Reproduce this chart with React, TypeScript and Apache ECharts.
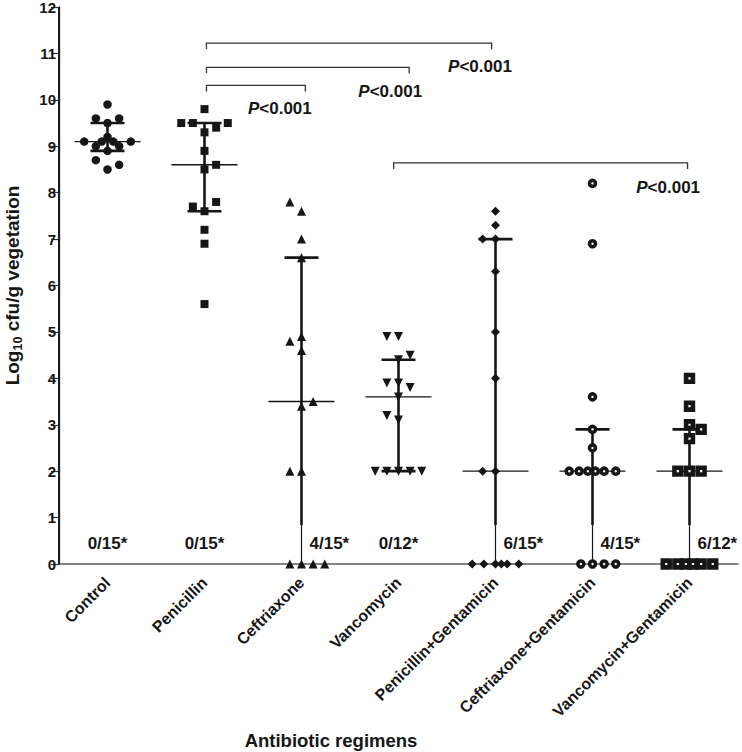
import React, { useEffect, useRef } from "react";
import * as echarts from "echarts";

const categories = [
  "Control",
  "Penicillin",
  "Ceftriaxone",
  "Vancomycin",
  "Penicillin+Gentamicin",
  "Ceftriaxone+Gentamicin",
  "Vancomycin+Gentamicin",
];

// log10 cfu/g vegetation, per animal
const controlValues = [9.9, 9.6, 9.6, 9.5, 9.2, 9.1, 9.1, 9.1, 9.1, 9.0, 9.0, 8.9, 8.7, 8.6, 8.5];
const penicillinValues = [9.8, 9.5, 9.5, 9.5, 9.4, 9.3, 8.9, 8.6, 8.5, 7.8, 7.7, 7.6, 7.2, 6.9, 5.6];
const ceftriaxoneValues = [7.8, 7.6, 7.0, 6.6, 4.9, 4.8, 4.6, 3.5, 3.4, 2.0, 2.0, 0, 0, 0, 0];
const vancomycinValues = [4.9, 4.9, 4.5, 4.4, 3.9, 3.9, 3.8, 3.6, 3.2, 3.1, 2.0, 2.0, 2.0, 2.0, 2.0];
const penGentValues = [7.6, 7.3, 7.0, 7.0, 6.3, 5.0, 4.0, 2.0, 2.0, 0, 0, 0, 0, 0, 0];
const ceftGentValues = [8.2, 6.9, 3.6, 2.9, 2.5, 2.0, 2.0, 2.0, 2.0, 2.0, 2.0, 0, 0, 0, 0];
const vancGentValues = [4.0, 3.4, 3.0, 2.9, 2.7, 2.0, 2.0, 2.0, 0, 0, 0, 0, 0, 0];

// scatter-dot column (jitter slot) of each point
const controlColumns = [0, -1, 1, 0, 0, -2, -0.5, 0.5, 2, -1, 1, 0, -1, 1, 0];
const penicillinColumns = [0, -2, -1, 2, 1, 0, 0, 1, 0, 1, -1, 0, 0, 0, 0];
const ceftriaxoneColumns = [-1, 0, 0, 0, 0, -1, 0, 1, 0, -1, 0, -1, 0, 1, 2];
const vancomycinColumns = [-1, 0, 1, 0, -1, 0, 1, 0, -1, 0, -2, -1, 0, 1, 2];
const penGentColumns = [0, 0, -1.1, 0, 0, 0, 0, -1.1, 0, -2, -1, 0, 0.5, 1, 2];
const ceftGentColumns = [0, 0, 0, 0, 0, -2, -1.15, -0.4, 0.25, 1, 2, -1, 0, 1, 2];
const vancGentColumns = [0, 0, 0, 1, 0, -1, 0, 1, -2, -1, -0.3, 0.3, 1, 2];

// median with interquartile range
const medianValues = [9.1, 8.6, 3.5, 3.6, 2.0, 2.0, 2.0];
const lowerValues = [8.9, 7.6, 0, 2.0, 0, 0, 0];
const upperValues = [9.5, 9.5, 6.6, 4.4, 7.0, 2.9, 2.9];

const sterileLabels = ["0/15*", "0/15*", "4/15*", "0/12*", "6/15*", "4/15*", "6/12*"];

// significance brackets (category positions, 0 = Control) and labels
const bracketStart = [1.02, 1.02, 1.02, 2.95];
const bracketEnd = [3.96, 3.11, 2.04, 5.98];
const bracketLevel = [11.22, 10.7, 10.31, 8.64];
const pLabels = ["P<0.001", "P<0.001", "P<0.001", "P<0.001"];
const pLabelX = [3.84, 2.915, 1.777, 5.78];
const pLabelY = [10.71, 10.19, 9.81, 8.12];

const FONT = "'Liberation Sans', Arial, Helvetica, sans-serif";
const INK = "#161616";
const SLOT = 0.12;
const SHIFT = 1; // hidden x value axis runs 0.5..7.5 so that it never crosses zero
const THIN_BELOW = 0.84;
const STERILE_Y = 0.45;

const GRID = { left: 59, right: 4, top: 7, bottom: 188 };
const HEIGHT = 752;

const groups = [
  { vals: controlValues, cols: controlColumns, symbol: "circle", size: 8.5, rotate: 0, hollow: false, border: 0 },
  { vals: penicillinValues, cols: penicillinColumns, symbol: "rect", size: 8, rotate: 0, hollow: false, border: 0 },
  { vals: ceftriaxoneValues, cols: ceftriaxoneColumns, symbol: "triangle", size: 9, rotate: 0, hollow: false, border: 0 },
  { vals: vancomycinValues, cols: vancomycinColumns, symbol: "triangle", size: 9, rotate: 180, hollow: false, border: 0 },
  { vals: penGentValues, cols: penGentColumns, symbol: "diamond", size: 9, rotate: 0, hollow: false, border: 0 },
  { vals: ceftGentValues, cols: ceftGentColumns, symbol: "circle", size: 6, rotate: 0, hollow: true, border: 3.6 },
  { vals: vancGentValues, cols: vancGentColumns, symbol: "rect", size: 6.8, rotate: 0, hollow: true, border: 4.6 },
];

export default function App() {
  const ref = useRef<HTMLDivElement>(null);

  useEffect(() => {
    if (!ref.current) return;
    const chart = echarts.init(ref.current, null, { renderer: "svg" });

    const scatterSeries = groups.map((g, gi) => ({
      type: "scatter",
      xAxisIndex: 1,
      yAxisIndex: 0,
      symbol: g.symbol,
      symbolSize: g.size,
      symbolRotate: g.rotate,
      clip: false,
      silent: true,
      z: 5,
      itemStyle: {
        color: g.hollow ? "#ffffff" : INK,
        borderColor: INK,
        borderWidth: g.border,
        opacity: 1,
      },
      data: g.vals.map((v, i) => [gi + SHIFT + g.cols[i] * SLOT, v]),
    }));

    const option: any = {
      animation: false,
      textStyle: { fontFamily: FONT },
      grid: { ...GRID, containLabel: false, outerBoundsMode: "none" },
      xAxis: [
        {
          type: "category",
          data: categories,
          boundaryGap: true,
          axisLine: { show: true, lineStyle: { color: "#5a5a5a", width: 1.5 } },
          axisTick: { alignWithLabel: true, length: 8, lineStyle: { color: "#444", width: 1.5 } },
          axisLabel: {
            rotate: 45,
            fontSize: 16,
            fontWeight: "bold",
            color: INK,
            fontFamily: FONT,
            margin: 16,
            interval: 0,
          },
          splitLine: { show: false },
        },
        { type: "value", min: 0.5, max: 7.5, show: false },
      ],
      yAxis: {
        type: "value",
        position: "left",
        min: 0,
        max: 12,
        interval: 1,
        axisLine: { show: true, lineStyle: { color: "#222", width: 1.3 } },
        axisTick: { show: true, length: 8, lineStyle: { color: "#333", width: 1.2 } },
        axisLabel: { fontSize: 15, fontWeight: "bold", color: INK, margin: 3, fontFamily: FONT },
        splitLine: { show: false },
        name: "{a|Log}{s|10}{a| cfu/g vegetation}",
        nameLocation: "middle",
        nameRotate: 90,
        nameGap: 35,
        nameTextStyle: {
          rich: {
            a: { fontSize: 19, fontWeight: "bold", color: INK, fontFamily: FONT, lineHeight: 24, verticalAlign: "middle" },
            s: { fontSize: 12.5, fontWeight: "bold", color: INK, fontFamily: FONT, lineHeight: 14, verticalAlign: "bottom" },
          },
        },
      },
      graphic: [
        {
          // left axis spine along the grid edge
          type: "rect",
          z: 100,
          silent: true,
          shape: { x: GRID.left - 1, y: GRID.top, width: 1.8, height: HEIGHT - GRID.top - GRID.bottom },
          style: { fill: "#1a1a1a" },
        },
        {
          type: "text",
          x: 331,
          y: 740,
          style: {
            text: "Antibiotic regimens",
            fontSize: 18.5,
            fontWeight: "bold",
            fontFamily: FONT,
            fill: INK,
            align: "center",
            verticalAlign: "middle",
          },
        },
      ],
      series: [
        {
          type: "custom",
          xAxisIndex: 0,
          yAxisIndex: 0,
          silent: true,
          z: 3,
          encode: { x: 0, y: [1, 2, 3] },
          data: medianValues.map((m, i) => [i, m, lowerValues[i], upperValues[i]]),
          renderItem: (params: any, api: any) => {
            const i = api.value(0);
            const c = api.value(1);
            const lo = api.value(2);
            const hi = api.value(3);
            const pc = api.coord([i, c]);
            const pl = api.coord([i, lo]);
            const ph = api.coord([i, hi]);
            const pt = api.coord([i, Math.max(lo, THIN_BELOW)]);
            const x = pc[0];
            const thick = { stroke: INK, lineWidth: 2.6 };
            const children: any[] = [
              { type: "line", shape: { x1: x, y1: ph[1], x2: x, y2: pt[1] }, style: thick },
              { type: "line", shape: { x1: x - 17, y1: ph[1], x2: x + 17, y2: ph[1] }, style: thick },
              { type: "line", shape: { x1: x - 33, y1: pc[1], x2: x + 33, y2: pc[1] }, style: { stroke: INK, lineWidth: 1.4 } },
            ];
            if (lo < THIN_BELOW) {
              children.push({ type: "line", shape: { x1: x, y1: pt[1], x2: x, y2: pl[1] }, style: { stroke: INK, lineWidth: 1.2 } });
            } else {
              children.push({ type: "line", shape: { x1: x - 17, y1: pl[1], x2: x + 17, y2: pl[1] }, style: thick });
            }
            return { type: "group", children };
          },
        },
        {
          type: "custom",
          xAxisIndex: 0,
          yAxisIndex: 0,
          silent: true,
          z: 6,
          encode: { x: 0, y: 1 },
          data: sterileLabels.map((_, i) => [i, STERILE_Y]),
          renderItem: (params: any, api: any) => {
            const i = api.value(0);
            const p = api.coord([i, api.value(1)]);
            const label = sterileLabels[i];
            const has = parseInt(label, 10) > 0;
            return {
              type: "text",
              x: p[0] + (has ? 8 : 0),
              y: p[1],
              style: {
                text: label,
                fontSize: 17,
                fontWeight: "bold",
                fontFamily: FONT,
                fill: INK,
                align: has ? "left" : "center",
                verticalAlign: "middle",
              },
            };
          },
        },
        {
          type: "custom",
          xAxisIndex: 1,
          yAxisIndex: 0,
          silent: true,
          z: 4,
          encode: { x: [0, 1], y: 2 },
          data: bracketStart.map((s, i) => [s + SHIFT, bracketEnd[i] + SHIFT, bracketLevel[i]]),
          renderItem: (params: any, api: any) => {
            const p1 = api.coord([api.value(0), api.value(2)]);
            const p2 = api.coord([api.value(1), api.value(2)]);
            return {
              type: "polyline",
              shape: {
                points: [
                  [p1[0], p1[1] + 6],
                  [p1[0], p1[1]],
                  [p2[0], p2[1]],
                  [p2[0], p2[1] + 6],
                ],
              },
              style: { stroke: "#333", lineWidth: 1.3, fill: "none" },
            };
          },
        },
        {
          type: "custom",
          xAxisIndex: 1,
          yAxisIndex: 0,
          silent: true,
          z: 6,
          encode: { x: 0, y: 1 },
          data: pLabelX.map((x, i) => [x + SHIFT, pLabelY[i]]),
          renderItem: (params: any, api: any) => {
            const p = api.coord([api.value(0), api.value(1)]);
            const t = pLabels[params.dataIndex];
            return {
              type: "text",
              x: p[0],
              y: p[1],
              style: {
                text: "{i|" + t.slice(0, 1) + "}{n|" + t.slice(1) + "}",
                align: "center",
                verticalAlign: "middle",
                rich: {
                  i: { fontSize: 17, fontWeight: "bold", fontStyle: "italic", fill: INK, fontFamily: FONT },
                  n: { fontSize: 17, fontWeight: "bold", fill: INK, fontFamily: FONT },
                },
              },
            };
          },
        },
        ...scatterSeries,
      ],
    };

    chart.setOption(option);
    return () => chart.dispose();
  }, []);

  return (
    <div
      ref={ref}
      style={{ position: "fixed", left: 0, top: 0, width: 742, height: 752, background: "#ffffff" }}
    />
  );
}
